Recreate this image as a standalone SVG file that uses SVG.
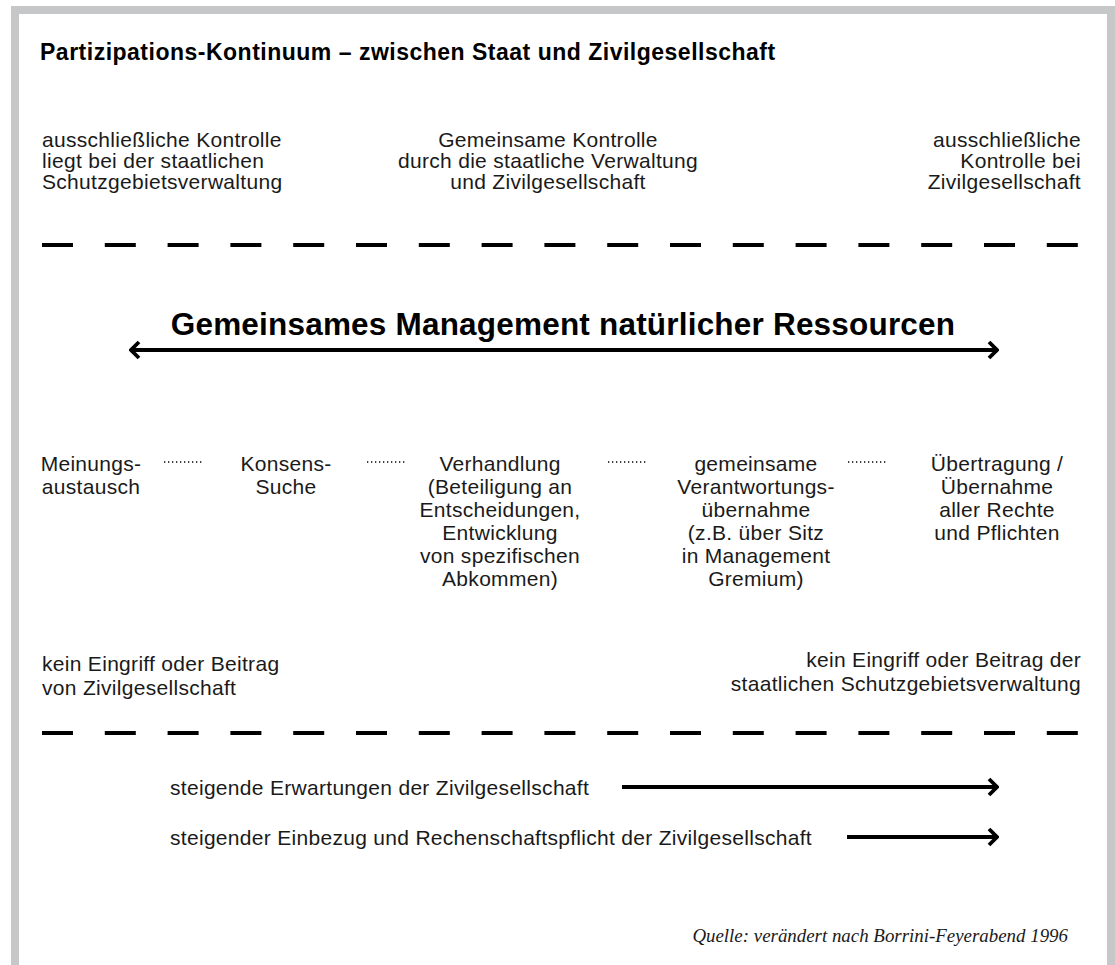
<svg xmlns="http://www.w3.org/2000/svg" width="1115" height="965" viewBox="0 0 1115 965">
<style>
.t{font-family:"Liberation Sans",Arial,sans-serif;font-size:21px;letter-spacing:0.3px;fill:#1a1a1a}
.m{text-anchor:middle}
.e{text-anchor:end}
.dash{stroke:#000;stroke-width:4;stroke-dasharray:31 31.8;fill:none}
.dot{stroke:#000;stroke-width:1.3;stroke-dasharray:1.3 2.7;fill:none}
.ar{stroke:#000;stroke-width:4;fill:none}
</style>
<defs>
<marker id="hd" viewBox="0 0 12 20" refX="10" refY="10" markerWidth="12" markerHeight="20" markerUnits="userSpaceOnUse" orient="auto-start-reverse">
<path d="M2,2 L10,10 L2,18" fill="none" stroke="#000" stroke-width="3.8" stroke-linejoin="miter"/>
</marker>
</defs>
<rect width="1115" height="965" fill="#fff"/>
<g id="frame" fill="#c6c7c9">
<rect x="11" y="6" width="1104" height="8"/>
<rect x="11" y="6" width="8" height="959"/>
<rect x="1107" y="6" width="8" height="959"/>
</g>
<text id="title" x="40" y="60" style="font-family:'Liberation Sans',Arial,sans-serif;font-size:23px;letter-spacing:0.5px;font-weight:bold;fill:#000">Partizipations-Kontinuum – zwischen Staat und Zivilgesellschaft</text>
<g id="top-left"><text class="t" x="42" y="147">ausschließliche Kontrolle</text><text class="t" x="42" y="168">liegt bei der staatlichen</text><text class="t" x="42" y="189">Schutzgebietsverwaltung</text></g>
<g id="top-center"><text class="t m" x="548" y="147">Gemeinsame Kontrolle</text><text class="t m" x="548" y="168">durch die staatliche Verwaltung</text><text class="t m" x="548" y="189">und Zivilgesellschaft</text></g>
<g id="top-right"><text class="t e" x="1081" y="147">ausschließliche</text><text class="t e" x="1081" y="168">Kontrolle bei</text><text class="t e" x="1081" y="189">Zivilgesellschaft</text></g>
<g id="main-title"><text x="563" y="335" text-anchor="middle" style="font-family:'Liberation Sans',Arial,sans-serif;font-size:31.5px;letter-spacing:0.2px;font-weight:bold;fill:#000">Gemeinsames Management natürlicher Ressourcen</text></g>
<g id="n1"><text class="t m" x="91" y="471">Meinungs-</text><text class="t m" x="91" y="494">austausch</text></g>
<g id="n2"><text class="t m" x="286" y="471">Konsens-</text><text class="t m" x="286" y="494">Suche</text></g>
<g id="n3"><text class="t m" x="500" y="471">Verhandlung</text><text class="t m" x="500" y="494">(Beteiligung an</text><text class="t m" x="500" y="517">Entscheidungen,</text><text class="t m" x="500" y="540">Entwicklung</text><text class="t m" x="500" y="563">von spezifischen</text><text class="t m" x="500" y="586">Abkommen)</text></g>
<g id="n4"><text class="t m" x="756" y="471">gemeinsame</text><text class="t m" x="756" y="494">Verantwortungs-</text><text class="t m" x="756" y="517">übernahme</text><text class="t m" x="756" y="540">(z.B. über Sitz</text><text class="t m" x="756" y="563">in Management</text><text class="t m" x="756" y="586">Gremium)</text></g>
<g id="n5"><text class="t m" x="997" y="471">Übertragung /</text><text class="t m" x="997" y="494">Übernahme</text><text class="t m" x="997" y="517">aller Rechte</text><text class="t m" x="997" y="540">und Pflichten</text></g>
<g id="bottom-left"><text class="t" x="42" y="671">kein Eingriff oder Beitrag</text><text class="t" x="42" y="695">von Zivilgesellschaft</text></g>
<g id="bottom-right"><text class="t e" x="1081" y="667">kein Eingriff oder Beitrag der</text><text class="t e" x="1081" y="691">staatlichen Schutzgebietsverwaltung</text></g>
<g id="lbl1"><text class="t" x="170" y="795">steigende Erwartungen der Zivilgesellschaft</text></g>
<g id="lbl2"><text class="t" x="170" y="845">steigender Einbezug und Rechenschaftspflicht der Zivilgesellschaft</text></g>
<g id="source"><text x="1068" y="942" text-anchor="end" style="font-family:'Liberation Serif','Times New Roman',serif;font-size:18.9px;font-style:italic;fill:#1a1a1a">Quelle: verändert nach Borrini-Feyerabend 1996</text></g>
<g id="connectors">
<line class="dash" x1="42" y1="245" x2="1080" y2="245"/>
<line class="dash" x1="42" y1="733" x2="1080" y2="733"/>
<line class="ar" x1="131" y1="350" x2="997" y2="350" marker-start="url(#hd)" marker-end="url(#hd)"/>
<line class="ar" x1="622" y1="787" x2="997" y2="787" marker-end="url(#hd)"/>
<line class="ar" x1="847" y1="837" x2="997" y2="837" marker-end="url(#hd)"/>
<line class="dot" x1="164" y1="462" x2="204" y2="462"/>
<line class="dot" x1="367" y1="462" x2="407" y2="462"/>
<line class="dot" x1="608" y1="462" x2="648" y2="462"/>
<line class="dot" x1="848" y1="462" x2="888" y2="462"/>
</g>
</svg>
